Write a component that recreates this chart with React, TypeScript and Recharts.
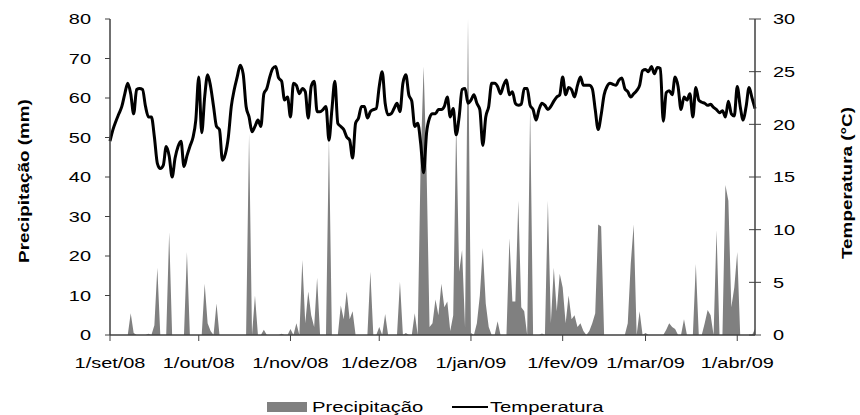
import React from 'react';
import { ComposedChart, Area, Line, XAxis, YAxis, Legend } from 'recharts';

// Daily series from 1/set/08 (index 0) to 7/abr/09 (index 218)
const precipitacao: number[] = [
  0, 0, 0, 0, 0, 0, 0, 5.5, 0.5, 0,
  0, 0, 0, 0.3, 0, 2.5, 17, 0, 0, 0,
  26, 0, 0, 0, 0, 0, 21, 0, 0, 0,
  0, 0, 13, 3, 1, 0, 8, 0, 0, 0,
  0, 0, 0, 0, 0, 0, 0, 51, 0, 10,
  0, 0, 1.3, 0, 0, 0, 0, 0, 0.3, 0,
  0, 1.5, 0, 3, 0, 19, 3, 11, 5, 2,
  14.5, 0, 0, 0, 50, 0, 0, 0, 7.5, 4,
  11, 4, 6, 0, 0, 0, 0, 0, 16, 0,
  0, 2, 0, 5.3, 0, 0, 0, 0, 13.5, 0,
  0.5, 0, 0, 5.5, 0, 44, 68, 42, 2, 3,
  9, 5, 13, 7, 8.5, 1, 5, 54, 16, 21.5,
  2, 80, 0.5, 0, 3, 10, 22, 8, 2, 0,
  0, 3.5, 0, 0, 0, 24.5, 8.5, 8.5, 34, 7,
  6, 0, 58, 0, 0, 0, 0.4, 0, 34, 3,
  17, 6, 15.5, 12, 3, 10, 4, 5, 2, 3,
  1, 0, 1, 3, 5.5, 28, 27.5, 0, 0, 0,
  0, 0, 0, 0, 0, 3, 18, 28, 0, 6,
  0, 0.5, 0, 0, 0, 0, 0, 0, 1.3, 3,
  2, 1.5, 0, 0, 4, 0, 0, 0, 18, 0,
  0, 3, 6.3, 5, 0, 26.5, 0, 0, 38, 34,
  7, 12, 21, 0, 0, 0, 0, 0, 1.5,
];

const temperatura: number[] = [
  18.4, 19.5, 20.3, 21.0, 21.7, 22.9, 23.9, 22.9, 21.0, 23.3,
  23.4, 23.3, 21.7, 20.7, 20.7, 18.8, 16.3, 15.8, 16.1, 17.9,
  17.0, 15.0, 16.8, 17.9, 18.4, 16.0, 17.0, 17.9, 18.7, 20.4,
  24.5, 19.2, 22.6, 24.7, 23.6, 21.7, 19.8, 19.5, 16.6, 17.2,
  18.8, 21.7, 23.3, 24.5, 25.6, 24.8, 21.7, 20.7, 19.3, 19.8,
  20.4, 19.8, 22.9, 23.4, 24.5, 25.3, 25.5, 24.4, 24.1, 22.3,
  22.6, 20.7, 23.9, 23.7, 22.9, 23.4, 23.1, 20.6, 23.6, 24.1,
  21.2, 21.2, 21.4, 21.7, 18.5, 21.4, 24.1, 20.1, 19.8, 19.5,
  18.8, 18.5, 16.8, 20.1, 20.6, 21.7, 21.7, 20.6, 21.2, 21.4,
  21.5, 23.6, 25.0, 22.0, 20.9, 21.0, 21.5, 22.0, 21.2, 23.9,
  24.7, 22.8, 22.2, 19.8, 20.1, 18.2, 15.4, 19.2, 20.6, 21.0,
  21.0, 21.4, 21.4, 21.7, 22.6, 20.7, 21.5, 19.0, 20.7, 23.3,
  23.4, 22.0, 22.3, 22.8, 22.0, 21.4, 18.0, 20.7, 21.7, 23.9,
  23.9, 23.6, 22.9, 23.7, 24.2, 22.8, 23.1, 22.0, 21.8, 21.9,
  23.4, 23.4, 21.8, 21.4, 20.4, 21.4, 22.0, 21.8, 21.4, 21.7,
  22.2, 22.6, 22.8, 24.5, 22.8, 23.5, 23.3, 22.6, 23.7, 24.5,
  23.7, 23.7, 23.7, 23.4, 21.4, 19.5, 20.9, 22.8, 23.6, 23.9,
  23.8, 23.7, 24.2, 24.4, 23.4, 23.1, 22.6, 22.9, 23.2, 23.7,
  25.1, 25.2, 25.0, 25.5, 24.8, 25.4, 25.3, 20.3, 23.0, 23.2,
  22.8, 24.5, 23.6, 21.4, 22.6, 22.3, 22.9, 20.7, 23.5, 22.3,
  22.1, 22.0, 21.8, 21.9, 21.6, 21.4, 21.1, 21.3, 20.7, 22.2,
  21.0, 20.8, 23.6, 21.7, 20.4, 21.7, 23.5, 22.5, 21.5,
];

const tickDias: number[] = [0, 30, 61, 91, 122, 153, 181, 212];
const tickRotulos: string[] = ['1/set/08', '1/out/08', '1/nov/08', '1/dez/08', '1/jan/09', '1/fev/09', '1/mar/09', '1/abr/09'];
const ticksPrecip: number[] = [0, 10, 20, 30, 40, 50, 60, 70, 80];
const ticksTemp: number[] = [0, 5, 10, 15, 20, 25, 30];

const data = temperatura.map((t, i) => ({ dia: i, temperatura: t, precipitacao: precipitacao[i] }));

const FONT = '"Liberation Sans", Arial, Helvetica, sans-serif';
const STRETCH = 1.33;
const AXIS = '#404040';

const XTick = (props: any) => {
  const { x, y, payload } = props;
  const i = tickDias.indexOf(payload.value);
  return (
    <g transform={`translate(${x},${y})`}>
      <text transform={`scale(${STRETCH},1)`} textAnchor="middle" dy="0.71em" fontSize={15} fontFamily={FONT} fill="#000">
        {tickRotulos[i]}
      </text>
    </g>
  );
};

const LeftTick = (props: any) => {
  const { x, y, payload } = props;
  return (
    <g transform={`translate(${x},${y})`}>
      <text transform={`scale(${STRETCH},1)`} textAnchor="end" dy="0.355em" fontSize={15} fontFamily={FONT} fill="#000">
        {payload.value}
      </text>
    </g>
  );
};

const RightTick = (props: any) => {
  const { x, y, payload } = props;
  return (
    <g transform={`translate(${x},${y})`}>
      <line x1={-18 - 6} x2={-18} y1={0} y2={0} stroke={AXIS} strokeWidth={1} />
      <text transform={`scale(${STRETCH},1)`} textAnchor="start" dy="0.355em" fontSize={15} fontFamily={FONT} fill="#000">
        {payload.value}
      </text>
    </g>
  );
};

const TitleLeft = (props: any) => {
  const vb = props.viewBox || { x: 0, y: 19, width: 110, height: 316 };
  const cx = vb.x + 24;
  const cy = vb.y + vb.height / 2 + 4;
  return (
    <text transform={`translate(${cx},${cy}) rotate(-90) scale(1.35,1)`} textAnchor="middle" dy="0.355em" fontSize={14} fontWeight="bold" fontFamily={FONT} fill="#000">
      Precipitação (mm)
    </text>
  );
};

const TitleRight = (props: any) => {
  const vb = props.viewBox || { x: 755, y: 19, width: 105, height: 316 };
  const cx = vb.x + 92;
  const cy = vb.y + vb.height / 2 + 6;
  return (
    <text transform={`translate(${cx},${cy}) rotate(-90) scale(1.35,1)`} textAnchor="middle" dy="0.355em" fontSize={14} fontWeight="bold" fontFamily={FONT} fill="#000">
      Temperatura (°C)
    </text>
  );
};

const LegendContent = () => (
  <svg width={860} height={16} style={{ display: 'block', overflow: 'visible' }}>
    <rect x={267} y={3} width={40} height={10} fill="#808080" />
    <text transform="translate(312,12.6) scale(1.35,1)" fontSize={15} fontFamily={FONT} fill="#000">Precipitação</text>
    <line x1={452} x2={488} y1={8} y2={8} stroke="#000" strokeWidth={2} />
    <text transform="translate(490,12.6) scale(1.35,1)" fontSize={15} fontFamily={FONT} fill="#000">Temperatura</text>
  </svg>
);

export default function App() {
  return (
    <div style={{ position: 'absolute', left: 0, top: 0, width: 860, height: 415, background: '#fff' }}>
      <ComposedChart width={860} height={415} data={data} margin={{ top: 19, right: 0, left: 0, bottom: 34 }}>
        <XAxis
          dataKey="dia"
          type="number"
          domain={[0, 218]}
          ticks={tickDias}
          interval={0}
          height={30}
          tickSize={6}
          tickMargin={16}
          tick={<XTick />}
          axisLine={{ stroke: AXIS, strokeWidth: 1.5 }}
          tickLine={{ stroke: AXIS }}
        />
        <YAxis
          yAxisId="p"
          orientation="left"
          domain={[0, 80]}
          ticks={ticksPrecip}
          interval={0}
          width={110}
          tickSize={5}
          tickMargin={14}
          tick={<LeftTick />}
          axisLine={{ stroke: AXIS, strokeWidth: 1.5 }}
          tickLine={{ stroke: AXIS }}
          label={<TitleLeft />}
        />
        <YAxis
          yAxisId="t"
          orientation="right"
          domain={[0, 30]}
          ticks={ticksTemp}
          interval={0}
          width={105}
          tickSize={6}
          tickMargin={12}
          tick={<RightTick />}
          axisLine={{ stroke: AXIS, strokeWidth: 1.5 }}
          tickLine={{ stroke: AXIS }}
          label={<TitleRight />}
        />
        <Area
          yAxisId="p"
          dataKey="precipitacao"
          name="Precipitação"
          type="linear"
          fill="#808080"
          fillOpacity={1}
          stroke="none"
          dot={false}
          activeDot={false}
          isAnimationActive={false}
        />
        <Line
          yAxisId="t"
          dataKey="temperatura"
          name="Temperatura"
          type="monotone"
          stroke="#000"
          strokeWidth={3}
          dot={false}
          activeDot={false}
          isAnimationActive={false}
        />
        <Legend
          content={<LegendContent />}
          wrapperStyle={{ position: 'absolute', left: 0, top: 399, width: 860, height: 16, margin: 0 }}
        />
      </ComposedChart>
    </div>
  );
}
